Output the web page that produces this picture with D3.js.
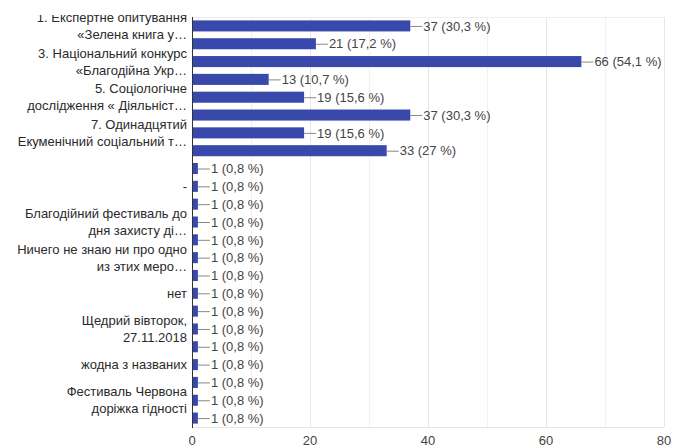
<!DOCTYPE html>
<html>
<head>
<meta charset="utf-8">
<script src="https://cdn.jsdelivr.net/npm/d3@7"></script>
<style>
  body { margin: 0; background: #fff; }
  svg { display: block; font-family: Arial, "Liberation Sans", sans-serif; }
</style>
</head>
<body>
<div class="chart"></div>
<script>
// counts per answer (23 rows, top to bottom)
var counts = [37, 21, 66, 13, 19, 37, 19, 33,
  1, 1, 1, 1, 1, 1, 1, 1, 1, 1, 1, 1, 1, 1, 1];
var percents = ["30,3", "17,2", "54,1", "10,7", "15,6", "30,3", "15,6", "27",
  "0,8", "0,8", "0,8", "0,8", "0,8", "0,8", "0,8", "0,8",
  "0,8", "0,8", "0,8", "0,8", "0,8", "0,8", "0,8"];
// only every other label is visible in the picture; rows without text stay empty
var rowLabels = [
  ["1. Експертне опитування", "«Зелена книга у…"], [],
  ["3. Національний конкурс", "«Благодійна Укр…"], [],
  ["5. Соціологічне", "дослідження « Діяльніст…"], [],
  ["7. Одинадцятий", "Екуменічний соціальний т…"], [],
  [], ["-"], [],
  ["Благодійний фестиваль до", "дня захисту ді…"], [],
  ["Ничего не знаю ни про одно", "из этих меро…"], [],
  ["нет"], [],
  ["Щедрий вівторок,", "27.11.2018"], [],
  ["жодна з названих"], [],
  ["Фестиваль Червона", "доріжка гідності"], []
];
var xTicks = [0, 20, 40, 60, 80];
var xGrid = [10, 20, 30, 40, 50, 60, 70, 80];

var margin = {top: 17, right: 9, bottom: 20, left: 192},
    width = 673 - margin.left - margin.right,
    height = 447 - margin.top - margin.bottom;

var svg = d3.select(".chart")
  .append("svg")
  .attr("width", 673)
  .attr("height", 447)
  .append("g")
  .attr("transform", "translate(" + margin.left + "," + margin.top + ")");

var rows = d3.range(counts.length);

var x = d3.scaleLinear().domain([0, 80]).range([0, 472]);
var y = d3.scaleBand().domain(rows).range([0, 410]).paddingInner(0.38).paddingOuter(0.19);

// grid
svg.selectAll(".grid")
  .data(xGrid)
  .enter()
  .append("line")
  .attr("x1", function(d) { return x(d) + 0.5; })
  .attr("x2", function(d) { return x(d) + 0.5; })
  .attr("y1", 0)
  .attr("y2", 410)
  .attr("stroke", function(d) { return d % 20 == 0 ? "#e6e6e6" : "#f0f0f0"; });

svg.append("line")
  .attr("x1", 0).attr("x2", x(80))
  .attr("y1", 0.5).attr("y2", 0.5)
  .attr("stroke", "#eeeeee");
svg.append("line")
  .attr("x1", 0).attr("x2", x(80))
  .attr("y1", 410.5).attr("y2", 410.5)
  .attr("stroke", "#e6e6e6");

// bars
svg.selectAll(".bar")
  .data(rows)
  .enter()
  .append("rect")
  .attr("x", 0)
  .attr("y", function(i) { return y(i); })
  .attr("width", function(i) { return x(counts[i]); })
  .attr("height", y.bandwidth())
  .attr("fill", "#3949ab");

// leader lines + value labels
svg.selectAll(".leader")
  .data(rows)
  .enter()
  .append("line")
  .attr("x1", function(i) { return x(counts[i]); })
  .attr("x2", function(i) { return x(counts[i]) + 12; })
  .attr("y1", function(i) { return y(i) + y.bandwidth() / 2 + 0.5; })
  .attr("y2", function(i) { return y(i) + y.bandwidth() / 2 + 0.5; })
  .attr("stroke", "#888");

svg.selectAll(".val")
  .data(rows)
  .enter()
  .append("text")
  .attr("x", function(i) { return x(counts[i]) + 13; })
  .attr("y", function(i) { return y(i) + y.bandwidth() / 2; })
  .attr("dy", "0.36em")
  .style("font-size", "13px")
  .style("fill", "#444")
  .text(function(i) { return counts[i] + " (" + percents[i] + " %)"; });

// category labels
var lab = svg.selectAll(".lab")
  .data(rows)
  .enter()
  .append("text")
  .attr("text-anchor", "end")
  .attr("x", -5)
  .attr("y", function(i) { return y(i) + y.bandwidth() / 2; })
  .style("font-size", "13px")
  .style("fill", "#2a2a2a");

lab.selectAll("tspan")
  .data(function(i) {
    var lines = rowLabels[i];
    return lines.map(function(t, k) { return {t: t, off: (k - (lines.length - 1) / 2) * 17}; });
  })
  .enter()
  .append("tspan")
  .attr("x", -5)
  .attr("dy", function(d, k) { return k == 0 ? (d.off / 13 + 0.36) + "em" : "17px"; })
  .text(function(d) { return d.t; });

// cropped top edge of the picture
svg.append("rect")
  .attr("x", -margin.left)
  .attr("y", -margin.top)
  .attr("width", margin.left - 2)
  .attr("height", 15)
  .attr("fill", "#fff");

// axis
svg.append("line")
  .attr("x1", 0.5).attr("x2", 0.5)
  .attr("y1", 0).attr("y2", 411)
  .attr("stroke", "#333");

svg.selectAll(".tick")
  .data(xTicks)
  .enter()
  .append("text")
  .attr("x", function(d) { return x(d); })
  .attr("y", 428)
  .attr("text-anchor", "middle")
  .style("font-size", "13px")
  .style("fill", "#444")
  .text(function(d) { return d; });
</script>
</body>
</html>
